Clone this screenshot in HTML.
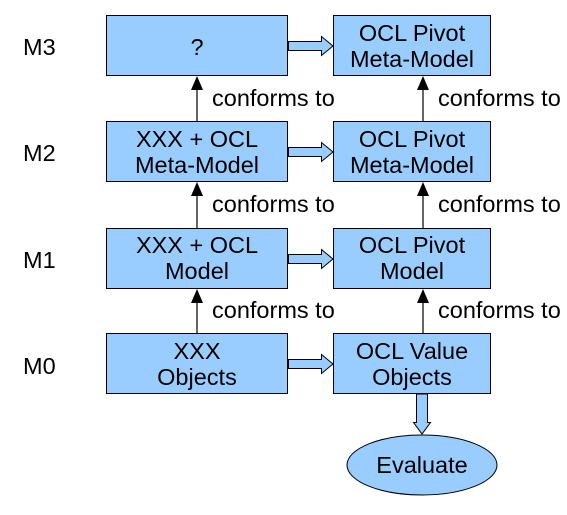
<!DOCTYPE html>
<html><head><meta charset="utf-8"><style>
body{margin:0;background:#fff}
svg text{font-family:"Liberation Sans",Arial,sans-serif;font-size:23.5px;fill:#000}
</style></head><body>
<svg width="567" height="510" viewBox="0 0 567 510">
<g>
<text x="23" y="55">M3</text>
<text x="23" y="161">M2</text>
<text x="23" y="268">M1</text>
<text x="23" y="374">M0</text>
</g>
<g fill="#99ccff" stroke="#000" stroke-width="1">
<rect x="106.5" y="15.5" width="181" height="60"/>
<rect x="333.5" y="15.5" width="157" height="60"/>
<rect x="106.5" y="121.5" width="181" height="60"/>
<rect x="333.5" y="121.5" width="157" height="60"/>
<rect x="106.5" y="228.5" width="181" height="60"/>
<rect x="333.5" y="228.5" width="157" height="60"/>
<rect x="106.5" y="333.5" width="181" height="60"/>
<rect x="333.5" y="333.5" width="157" height="60"/>
<ellipse cx="422" cy="465" rx="75" ry="30"/>
<path d="M288.5,41.5 H321.5 V36.5 L333,46 L321.5,55.5 V50.5 H288.5 Z"/>
<path d="M288.5,147.5 H321.5 V142.5 L333,152 L321.5,161.5 V156.5 H288.5 Z"/>
<path d="M288.5,254.5 H321.5 V249.5 L333,259 L321.5,268.5 V263.5 H288.5 Z"/>
<path d="M288.5,359.5 H321.5 V354.5 L333,364 L321.5,373.5 V368.5 H288.5 Z"/>
<path d="M416.5,394 V422.5 H413.5 L422,434 L430.5,422.5 H427.5 V394 Z"/>
</g>
<g stroke="#000" stroke-width="1.2">
<line x1="197" y1="121" x2="197" y2="86"/>
<line x1="197" y1="228" x2="197" y2="192"/>
<line x1="197" y1="333" x2="197" y2="299"/>
<line x1="423" y1="121" x2="423" y2="86"/>
<line x1="423" y1="228" x2="423" y2="192"/>
<line x1="423" y1="333" x2="423" y2="299"/>
</g>
<g fill="#000">
<path d="M191,90 L197,76 L203,90 Z"/>
<path d="M191,196 L197,182 L203,196 Z"/>
<path d="M191,303 L197,289 L203,303 Z"/>
<path d="M417,90 L423,76 L429,90 Z"/>
<path d="M417,196 L423,182 L429,196 Z"/>
<path d="M417,303 L423,289 L429,303 Z"/>
</g>
<g text-anchor="middle">
<text x="197" y="55">?</text>
<text x="412" y="41">OCL Pivot</text>
<text x="412" y="67">Meta-Model</text>
<text x="197" y="147">XXX + OCL</text>
<text x="197" y="173">Meta-Model</text>
<text x="412" y="147">OCL Pivot</text>
<text x="412" y="173">Meta-Model</text>
<text x="197" y="253">XXX + OCL</text>
<text x="197" y="279">Model</text>
<text x="412" y="253">OCL Pivot</text>
<text x="412" y="279">Model</text>
<text x="197" y="359">XXX</text>
<text x="197" y="385">Objects</text>
<text x="412" y="359">OCL Value</text>
<text x="412" y="385">Objects</text>
<text x="422" y="473">Evaluate</text>
</g>
<g>
<text x="212" y="106">conforms to</text>
<text x="212" y="212">conforms to</text>
<text x="212" y="318">conforms to</text>
<text x="438" y="106">conforms to</text>
<text x="438" y="212">conforms to</text>
<text x="438" y="318">conforms to</text>
</g>
</svg>
</body></html>
